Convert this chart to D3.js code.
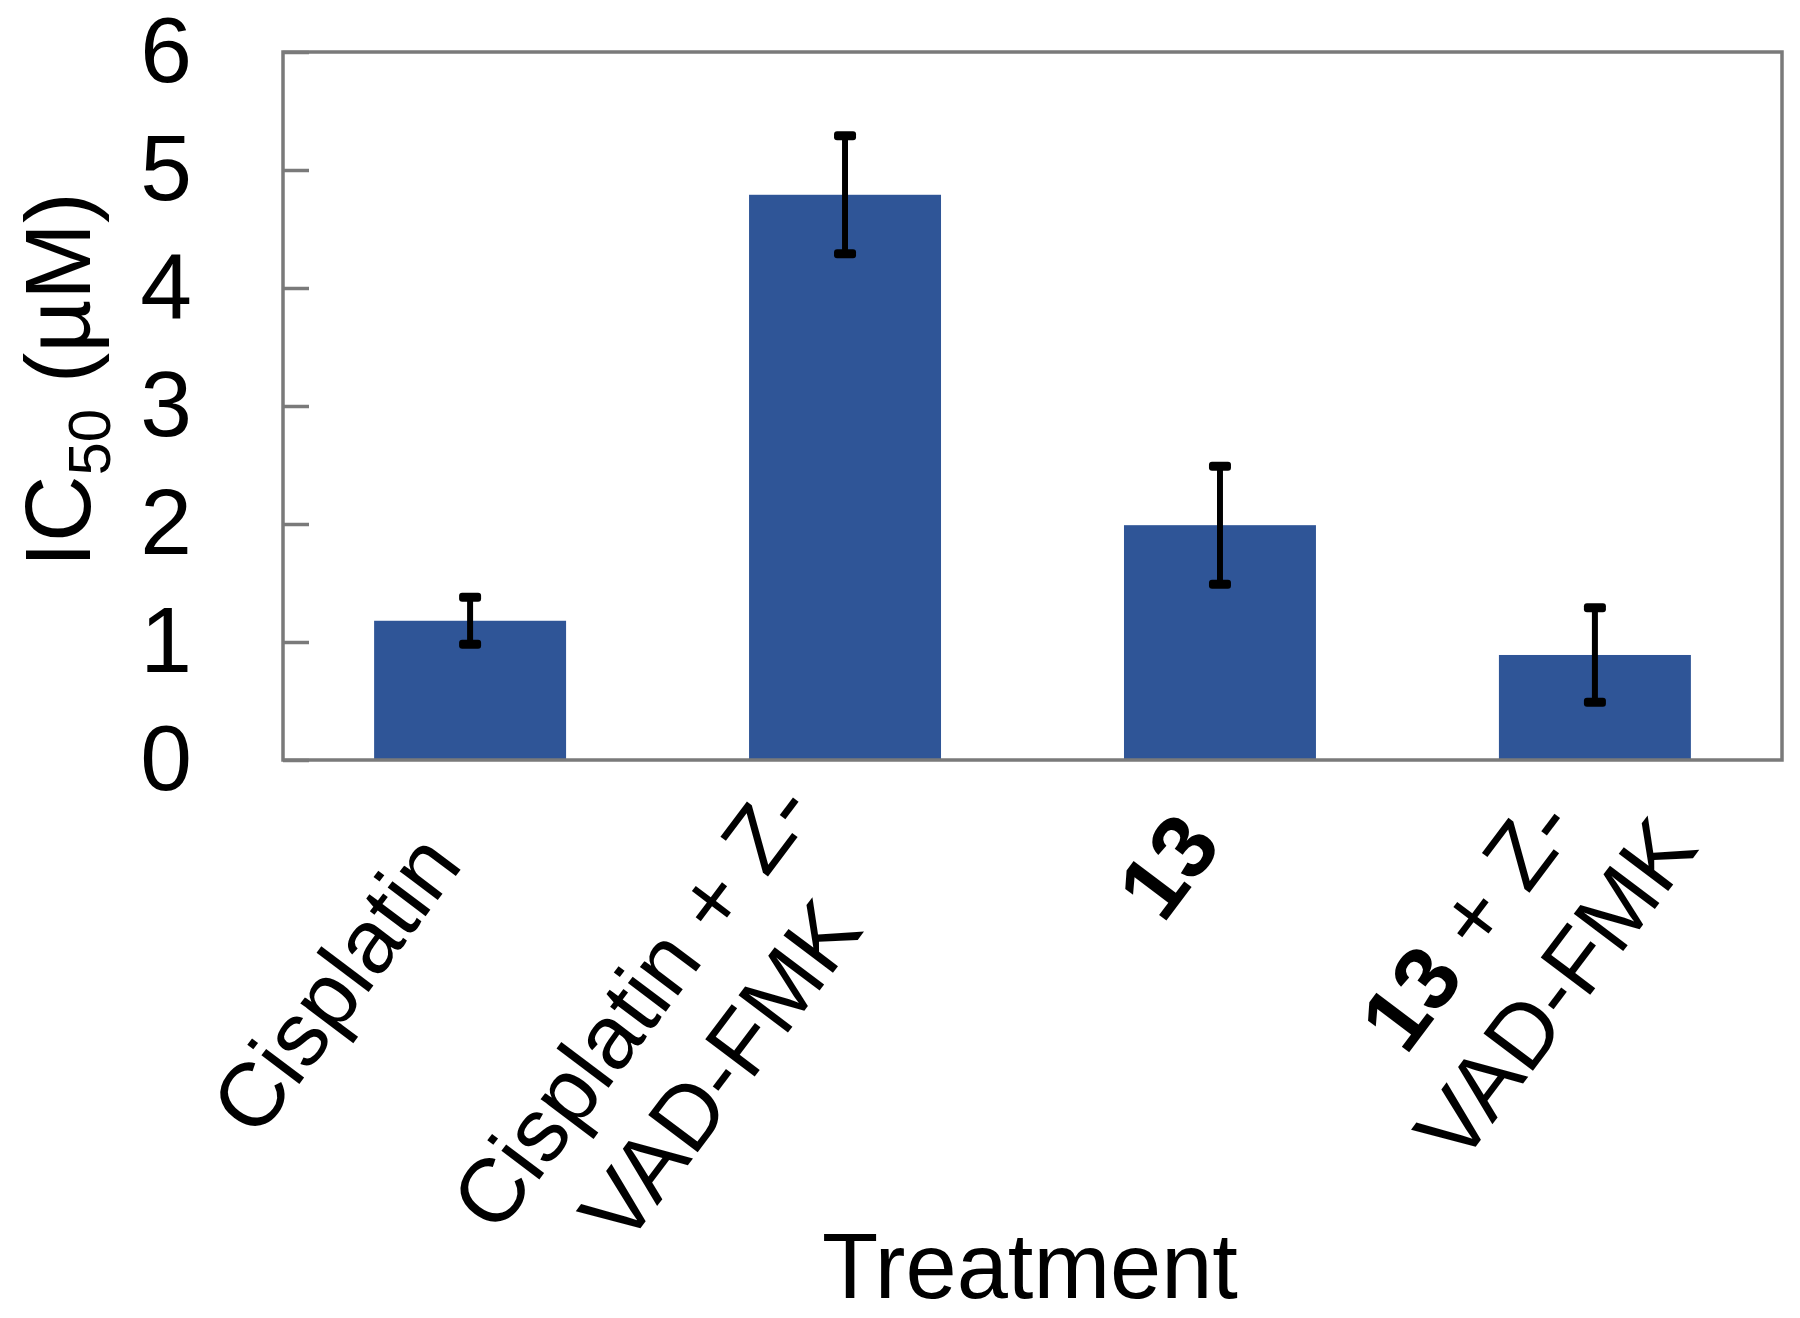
<!DOCTYPE html>
<html><head><meta charset="utf-8">
<script src="https://cdn.jsdelivr.net/npm/d3@7"></script>
<style>body{margin:0;background:#fff}text{font-family:"Liberation Sans",Arial,sans-serif;fill:#000}</style>
</head><body><svg id="c" width="1800" height="1318"></svg>
<script>
// ---- data ----
const categories = ["Cisplatin", "Cisplatin + Z-VAD-FMK", "13", "13 + Z-VAD-FMK"];
const labelLines = [["Cisplatin"], ["Cisplatin + Z-", "VAD-FMK"], ["13"], ["13 + Z-", "VAD-FMK"]];
const boldToken = "13";
const values = [1.18, 4.79, 1.99, 0.89];
const errors = [0.2, 0.5, 0.5, 0.4];
const yTicks = [0, 1, 2, 3, 4, 5, 6];
const yTitle = {main: "IC", sub: "50", rest: " (\u00B5M)"};
const xTitle = "Treatment";

// ---- layout (style only) ----
const L = 283, R = 1782, T = 52, B = 760;
const labelOffsets = [[-31, 86], [-9, 65], [-22, 66], [36, 37]]; // block end-middle relative to band centre / axis
const svg = d3.select("#c");
const y = d3.scaleLinear().domain([0, 6]).range([B, T]);
const x = d3.scaleBand().domain(categories).range([L, R]).paddingInner(0.488).paddingOuter(0.243);

// bars
svg.append("g").selectAll("rect").data(categories).join("rect")
  .attr("x", d => x(d)).attr("width", x.bandwidth())
  .attr("y", (d, i) => y(values[i])).attr("height", (d, i) => y(0) - y(values[i]))
  .attr("fill", "#2F5597");

// frame
svg.append("rect").attr("x", L).attr("y", T).attr("width", R - L).attr("height", B - T)
  .attr("fill", "none").attr("stroke", "#7a7a7a").attr("stroke-width", 3.5);

// y axis
const ya = svg.append("g").attr("transform", `translate(${L},0)`)
  .call(d3.axisLeft(y).tickValues(yTicks).tickSize(-26).tickPadding(91).tickFormat(d3.format("d")));
ya.select(".domain").remove();
ya.selectAll(".tick line").attr("stroke", "#7a7a7a").attr("stroke-width", 3.5);
ya.selectAll(".tick text").style("font-size", "93px").style("font-family", '"Liberation Sans", Arial, sans-serif').attr("fill", "#000");

// error bars
const eg = svg.append("g");
categories.forEach((c, i) => {
  const cx = x(c) + x.bandwidth() / 2;
  const y1 = y(values[i] + errors[i]), y0 = y(values[i] - errors[i]);
  eg.append("line").attr("x1", cx).attr("x2", cx).attr("y1", y1).attr("y2", y0)
    .attr("stroke", "#000").attr("stroke-width", 6);
  [y1, y0].forEach(yy => eg.append("rect").attr("x", cx - 11).attr("y", yy - 4.5)
    .attr("width", 22).attr("height", 9).attr("rx", 3).attr("fill", "#000"));
});

// category labels (rotated)
const ANG = -53, FS = 90, LH = 110;
const lg = svg.append("g").style("font-size", FS + "px");
categories.forEach((c, i) => {
  const cx = x(c) + x.bandwidth() / 2;
  const [ox, oy] = labelOffsets[i];
  const g = lg.append("g").attr("transform", `translate(${cx + ox},${B + oy}) rotate(${ANG})`);
  const lines = labelLines[i];
  const texts = lines.map((ln, j) => {
    const t = g.append("text").attr("text-anchor", "middle").attr("dy", "0.35em")
      .attr("y", (j - (lines.length - 1) / 2) * LH);
    const parts = ln.split(boldToken);
    parts.forEach((p, k) => {
      if (k > 0) t.append("tspan").attr("font-weight", "bold").text(boldToken);
      if (p) t.append("tspan").text(p);
    });
    return t;
  });
  const maxW = d3.max(texts, t => t.node().getComputedTextLength());
  texts.forEach(t => t.attr("x", -maxW / 2));
});

// axis titles
svg.append("text").attr("x", 1030).attr("y", 1298).attr("text-anchor", "middle")
  .style("font-size", "92px").text(xTitle);
const yt = svg.append("text").attr("transform", "translate(90,380) rotate(-90)")
  .attr("text-anchor", "middle").style("font-size", "92px");
yt.append("tspan").text(yTitle.main);
yt.append("tspan").attr("dy", 20).style("font-size", "60px").text(yTitle.sub);
yt.append("tspan").attr("dy", -20).text(yTitle.rest);
</script></body></html>
